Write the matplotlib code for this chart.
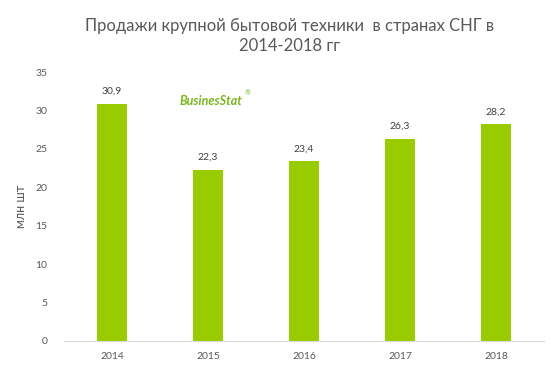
import matplotlib.pyplot as plt

# Данные
years = ['2014', '2015', '2016', '2017', '2018']
sales = [30.9, 22.3, 23.4, 26.3, 28.2]
yticks = [0, 5, 10, 15, 20, 25, 30, 35]

plt.rcParams['font.family'] = ['Lato', 'DejaVu Sans']
text_color = '#595959'
bar_color = '#99cc00'

fig = plt.figure(figsize=(5.56, 3.72), dpi=100)
ax = fig.add_axes([64 / 556, 31 / 372, 480 / 556, 269 / 372])

x = range(len(years))
ax.bar(x, sales, width=0.31, color=bar_color)

for i, v in zip(x, sales):
    ax.text(i, v + 1.0, f'{v:.1f}'.replace('.', ','), ha='center', va='bottom',
            fontsize=7.5, color='#404040')

ax.set_xlim(-0.5, len(years) - 0.5)
ax.set_ylim(0, 35)
ax.set_xticks(list(x))
ax.set_xticklabels(years)
ax.set_yticks(yticks)
ax.tick_params(axis='both', length=0, labelsize=7.5, colors=text_color)
ax.tick_params(axis='y', pad=12)
ax.tick_params(axis='x', pad=8)

for side in ['top', 'right', 'left']:
    ax.spines[side].set_visible(False)
ax.spines['bottom'].set_color('#d9d9d9')

ax.set_ylabel('млн шт', fontsize=9, color=text_color, labelpad=6)

fig.text(0.52, 1 - 36 / 372, 'Продажи крупной бытовой техники  в странах СНГ в\n2014-2018 гг',
         ha='center', va='center', fontsize=12, color=text_color, linespacing=1.35)

# логотип
fig.text(180 / 556, 1 - 101 / 372, 'BusinesStat', fontsize=9, fontweight='bold',
         style='italic', color='#7ab51d', va='center', ha='left')
fig.text(245 / 556, 1 - 93 / 372, '®', fontsize=5, color='#7ab51d', va='center')

fig.savefig('out.png', dpi=100)
